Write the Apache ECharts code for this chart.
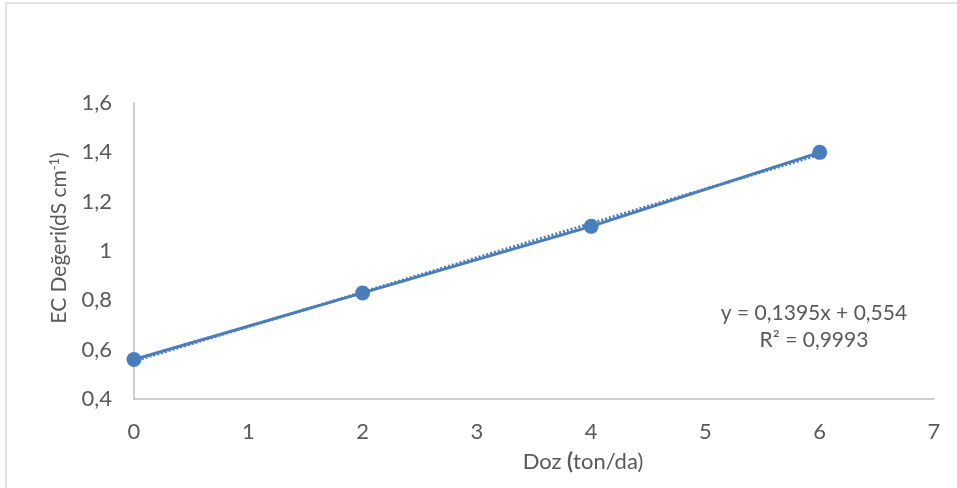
<!DOCTYPE html>
<html lang="tr">
  <head>
    <meta charset="UTF-8" />
    <title>EC Değeri</title>
    <script src="https://cdn.jsdelivr.net/npm/echarts@6/dist/echarts.min.js"></script>
    <style>
      html, body { margin: 0; padding: 0; background: #fff; }
      #main { width: 957px; height: 488px; }
    </style>
  </head>
  <body>
    <div id="main"></div>
    <script>
      // doz (ton/da) ve EC değerleri
      const doses = [0, 2, 4, 6];
      const ecValues = [0.56, 0.83, 1.1, 1.4];
      // doğrusal eğilim çizgisi uç noktaları
      const trendX = [0, 6];
      const trendY = [0.554, 1.391];
      const equationLines = ["y = 0,1395x + 0,554", "R² = 0,9993"];

      const font = "Lato, 'Open Sans', sans-serif";
      const grey = "#595959";
      const blue = "#4a7ebb";
      const fmt = (v) => String(+v.toFixed(1)).replace(".", ",");

      const chart = echarts.init(document.getElementById("main"));
      chart.setOption({
        animation: false,
        grid: { left: 134, right: 23, top: 103, bottom: 89 },
        xAxis: {
          type: "value",
          min: 0,
          max: 7,
          interval: 1,
          axisLine: { lineStyle: { color: "#bfbfbf", width: 1.5 } },
          axisTick: { show: false },
          splitLine: { show: false },
          axisLabel: { color: grey, fontFamily: font, fontSize: 22, margin: 22 }
        },
        yAxis: {
          type: "value",
          min: 0.4,
          max: 1.6,
          interval: 0.2,
          name: "EC Değeri(dS cm{s|-1})",
          nameLocation: "middle",
          nameGap: 64,
          nameTextStyle: {
            color: grey, fontFamily: font, fontSize: 21,
            padding: [0, 0, 0, 26],
            rich: { s: { fontSize: 13, verticalAlign: "top", color: grey, fontFamily: font, padding: [0, 0, 9, 0] } }
          },
          axisLine: { show: true, lineStyle: { color: "#bfbfbf", width: 1.5 } },
          axisTick: { show: false },
          splitLine: { show: false },
          axisLabel: { color: grey, fontFamily: font, fontSize: 22, margin: 22, formatter: fmt }
        },
        series: [
          {
            type: "line",
            data: trendX.map((x, i) => [x, trendY[i]]),
            symbol: "none",
            lineStyle: { color: blue, width: 3, type: [2, 2] },
            z: 1
          },
          {
            type: "line",
            data: doses.map((x, i) => [x, ecValues[i]]),
            symbol: "circle",
            symbolSize: 15,
            itemStyle: { color: blue },
            lineStyle: { color: blue, width: 3 },
            z: 2
          }
        ],
        graphic: [
          {
            type: "polyline",
            shape: { points: [[6, 488], [6, 3], [957, 3]] },
            style: { stroke: "#d9d9d9", lineWidth: 1.5, fill: null }
          },
          {
            type: "text",
            x: 583,
            y: 462,
            style: {
              text: "Doz {b|(}ton/da)",
              fill: grey,
              font: "22px " + font,
              align: "center",
              verticalAlign: "middle",
              rich: { b: { fontWeight: "bold", fill: grey, fontFamily: font, fontSize: 22 } }
            }
          },
          {
            type: "text",
            x: 814,
            y: 313,
            style: { text: equationLines[0], fill: grey, font: "21px " + font, align: "center", verticalAlign: "middle" }
          },
          {
            type: "text",
            x: 814,
            y: 340,
            style: { text: equationLines[1], fill: grey, font: "21px " + font, align: "center", verticalAlign: "middle" }
          }
        ]
      });
    </script>
  </body>
</html>
